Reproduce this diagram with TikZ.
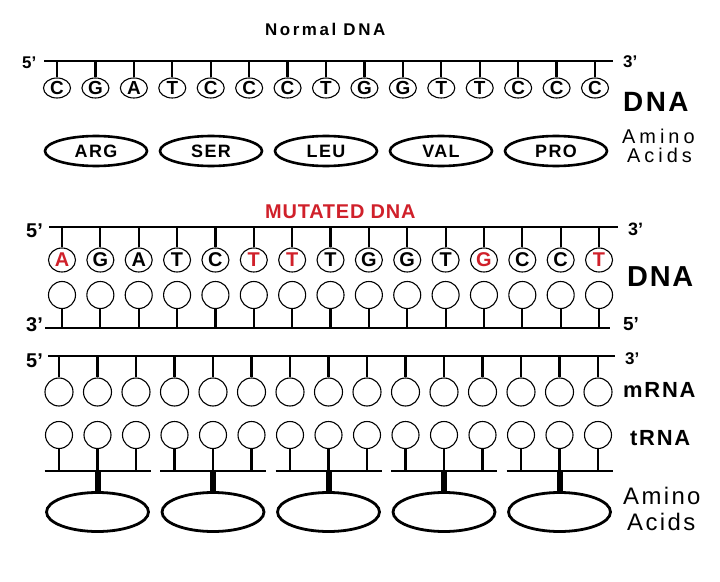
\documentclass[tikz,border=0pt]{standalone}
\usepackage{fontspec}
\setmainfont{Liberation Sans}
\usetikzlibrary{shapes.geometric}
\definecolor{mutred}{RGB}{208,32,42}
\newcommand\fsz[2]{\fontsize{#1}{#1}\selectfont\addfontfeature{LetterSpace=#2}}
\begin{document}
\begin{tikzpicture}[x=1bp,y=-1bp,
  lbl/.style={inner sep=0pt, text depth=0pt},
  bb/.style={line width=2.4bp},
  stem/.style={line width=2.2bp},
  nuctop/.style={ellipse, draw, line width=1.1bp, minimum width=27bp, minimum height=20bp, inner sep=0pt, font=\bfseries\fsz{19}{0}},
  nucm/.style={ellipse, draw, line width=1.1bp, minimum width=27bp, minimum height=24bp, inner sep=0pt, font=\bfseries\fsz{20}{0}},
  nuc/.style={circle, draw, line width=1.1bp, minimum size=27bp, inner sep=0pt},
  aa/.style={ellipse, draw, line width=2.6bp, minimum width=102bp, minimum height=30bp, inner sep=0pt, font=\bfseries\fsz{18}{8}},
  aabig/.style={ellipse, draw, line width=2.8bp, minimum width=102bp, minimum height=39bp, inner sep=0pt},
]
\fill[white] (0,0) rectangle (720,582);
\useasboundingbox (0,0) rectangle (720,582);

% ---------- Normal DNA ----------
\node[lbl, anchor=west, font=\bfseries\fsz{17}{15}] (tN) at (265,29) {Normal DNA};
\node[lbl, anchor=west, font=\bfseries\fsz{17}{0}] (n5) at (22,63) {5'};
\node[lbl, anchor=west, font=\bfseries\fsz{17}{0}] (n3) at (623,62) {3'};
\coordinate (nL) at (44,61);
\coordinate (nR) at (613,61);
\draw[bb] (nL) -- (nR);
\foreach \b [count=\i] in {C,G,A,T,C,C,C,T,G,G,T,T,C,C,C}{
  \node[nuctop] (na\i) at ({57+38.43*(\i-1)},88) {\b};
  \coordinate (nt\i) at ({57+38.43*(\i-1)},61);
  \draw[stem] (nt\i) -- (na\i.north);
}
\foreach \a [count=\i] in {ARG,SER,LEU,VAL,PRO}{
  \node[aa] (aa\i) at ({96+115*(\i-1)},151) {\a};
}
\node[lbl, anchor=west, font=\bfseries\fsz{28}{9}] (nDNA) at (623,102) {DNA};
\node[lbl, anchor=west, font=\fsz{20}{20}] (nAm) at (622,136) {Amino};
\node[lbl, anchor=west, font=\fsz{20}{20}] (nAc) at (627,155) {Acids};

% ---------- Mutated DNA ----------
\node[lbl, anchor=west, font=\bfseries\fsz{20}{4}, text=mutred] (tM) at (265,212) {MUTATED DNA};
\node[lbl, anchor=west, font=\bfseries\fsz{20}{0}] (m5) at (26,231) {5'};
\node[lbl, anchor=west, font=\bfseries\fsz{18}{0}] (m3) at (628,229) {3'};
\node[lbl, anchor=west, font=\bfseries\fsz{20}{0}] (m3b) at (26,325) {3'};
\node[lbl, anchor=west, font=\bfseries\fsz{19}{0}] (m5b) at (623,324) {5'};
\coordinate (mL) at (49,227);
\coordinate (mR) at (618,227);
\coordinate (mLb) at (45,328);
\coordinate (mRb) at (610,328);
\draw[bb] (mL) -- (mR);
\draw[bb] (mLb) -- (mRb);
\foreach \b/\c [count=\i] in {A/mutred,G/black,A/black,T/black,C/black,T/mutred,T/mutred,T/black,G/black,G/black,T/black,G/mutred,C/black,C/black,T/mutred}{
  \node[nucm, text=\c] (ma\i) at ({62+38.36*(\i-1)},260) {\b};
  \node[nuc] (mb\i) at ({62+38.36*(\i-1)},295) {};
  \coordinate (mt\i) at ({62+38.36*(\i-1)},227);
  \coordinate (ms\i) at ({62+38.36*(\i-1)},328);
  \draw[stem] (mt\i) -- (ma\i.north);
  \draw[stem] (mb\i.south) -- (ms\i);
}
\node[lbl, anchor=west, font=\bfseries\fsz{29}{6}] (mDNA) at (627,277) {DNA};

% ---------- mRNA / tRNA ----------
\node[lbl, anchor=west, font=\bfseries\fsz{20}{0}] (r5) at (26,361) {5'};
\node[lbl, anchor=west, font=\bfseries\fsz{17}{0}] (r3) at (625,359) {3'};
\coordinate (rL) at (48,356);
\coordinate (rR) at (615,356);
\draw[bb] (rL) -- (rR);
\foreach \i in {1,...,15}{
  \node[nuc, minimum size=28bp] (rm\i) at ({59+38.5*(\i-1)},392) {};
  \coordinate (rt\i) at ({59+38.5*(\i-1)},356);
  \draw[stem] (rt\i) -- (rm\i.north);
  \node[nuc] (tr\i) at ({59+38.5*(\i-1)},435) {};
  \coordinate (tb\i) at ({59+38.5*(\i-1)},471);
  \draw[stem] (tr\i.south) -- (tb\i);
}
\foreach \k in {0,...,4}{
  \coordinate (gL\k) at ({97.5+115.5*\k-53},471);
  \coordinate (gR\k) at ({97.5+115.5*\k+53},471);
  \coordinate (gC\k) at ({97.5+115.5*\k},471);
  \draw[line width=2bp] (gL\k) -- (gR\k);
  \node[aabig] (ab\k) at ({97.5+115.5*\k},512) {};
  \draw[line width=6bp] (gC\k) -- (ab\k.north);
}
\node[lbl, anchor=west, font=\bfseries\fsz{22}{8}] (lm) at (623,390) {mRNA};
\node[lbl, anchor=west, font=\bfseries\fsz{22}{8}] (lt) at (630,438) {tRNA};
\node[lbl, anchor=west, font=\fsz{24}{10}] (lAm) at (623,496) {Amino};
\node[lbl, anchor=west, font=\fsz{24}{10}] (lAc) at (627,522) {Acids};
\end{tikzpicture}
\end{document}
